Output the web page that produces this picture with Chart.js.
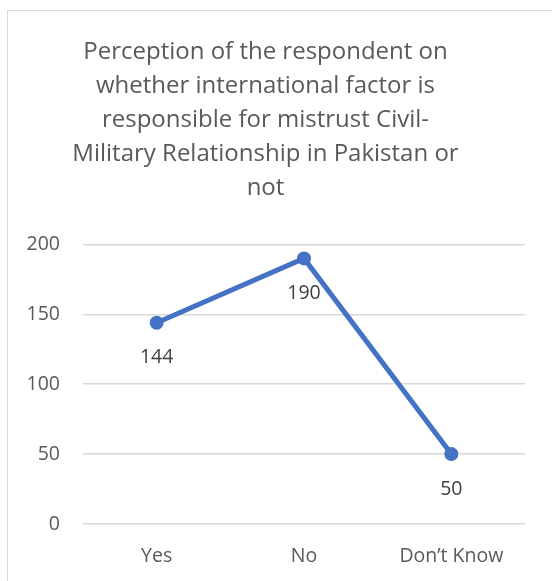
<!DOCTYPE html>
<html>
<head>
<meta charset="utf-8">
<script src="https://cdn.jsdelivr.net/npm/chart.js@4/dist/chart.umd.min.js"></script>
<style>
  html, body { margin: 0; padding: 0; background: #fff; }
  #wrap { position: relative; width: 552px; height: 581px; overflow: hidden; }
  #frame { position: absolute; left: 7px; top: 10px; width: 600px; height: 620px; border: 1px solid #d9d9d9; box-sizing: border-box; }
  #chartBox { position: absolute; left: 0; top: 0; width: 552px; height: 581px; }
</style>
</head>
<body>
<div id="wrap">
  <div id="frame"></div>
  <div id="chartBox"><canvas id="chart"></canvas></div>
</div>
<script>
const categories = ['Yes', 'No', 'Don\u2019t Know'];
const responses = [144, 190, 50];
const yTicks = [0, 50, 100, 150, 200];
const titleLines = [
  'Perception of the respondent on',
  'whether international factor is',
  'responsible for mistrust Civil-',
  'Military Relationship in Pakistan or',
  'not'
];

const FONT = '"Open Sans", Lato, sans-serif';

// writes each value under its point
const valueLabels = {
  id: 'valueLabels',
  afterDatasetsDraw(chart) {
    const ctx = chart.ctx;
    const meta = chart.getDatasetMeta(0);
    ctx.save();
    ctx.font = '19.5px ' + FONT;
    ctx.fillStyle = '#404040';
    ctx.textAlign = 'center';
    ctx.textBaseline = 'middle';
    meta.data.forEach((pt, i) => {
      ctx.fillText(String(chart.data.datasets[0].data[i]), pt.x, pt.y + 35);
    });
    ctx.restore();
  }
};

// centre the title on the framed area rather than the padded box
const titleNudge = {
  id: 'titleNudge',
  afterLayout(chart) {
    if (chart.titleBlock) {
      chart.titleBlock.left -= 7;
      chart.titleBlock.right -= 7;
    }
  }
};

new Chart(document.getElementById('chart'), {
  type: 'line',
  data: {
    labels: categories,
    datasets: [{
      data: responses,
      borderColor: '#4472C4',
      backgroundColor: '#4472C4',
      borderWidth: 5,
      pointRadius: 7,
      pointBackgroundColor: '#4472C4',
      pointBorderWidth: 0,
      tension: 0
    }]
  },
  options: {
    responsive: true,
    maintainAspectRatio: false,
    animation: false,
    layout: { padding: { left: 20, right: 27, bottom: 0 } },
    plugins: {
      legend: { display: false },
      tooltip: { enabled: false },
      title: {
        display: true,
        text: titleLines,
        color: '#595959',
        font: { family: FONT, size: 24, weight: 'normal', lineHeight: 1.42 },
        padding: { top: 35, bottom: 39 }
      }
    },
    scales: {
      x: {
        offset: true,
        afterFit(scale) { scale.height = 57; },
        grid: { display: false },
        border: { display: false },
        ticks: { color: '#595959', font: { family: FONT, size: 19.5 }, padding: 13 }
      },
      y: {
        min: 0,
        max: 200,
        afterBuildTicks(scale) { scale.ticks = yTicks.map(v => ({ value: v })); },
        afterFit(scale) { scale.width = 63; },
        grid: { color: '#d9d9d9', lineWidth: 1.5, drawTicks: false },
        border: { display: false },
        ticks: { color: '#595959', font: { family: FONT, size: 19.5 }, padding: 23 }
      }
    }
  },
  plugins: [valueLabels, titleNudge]
});
</script>
</body>
</html>
